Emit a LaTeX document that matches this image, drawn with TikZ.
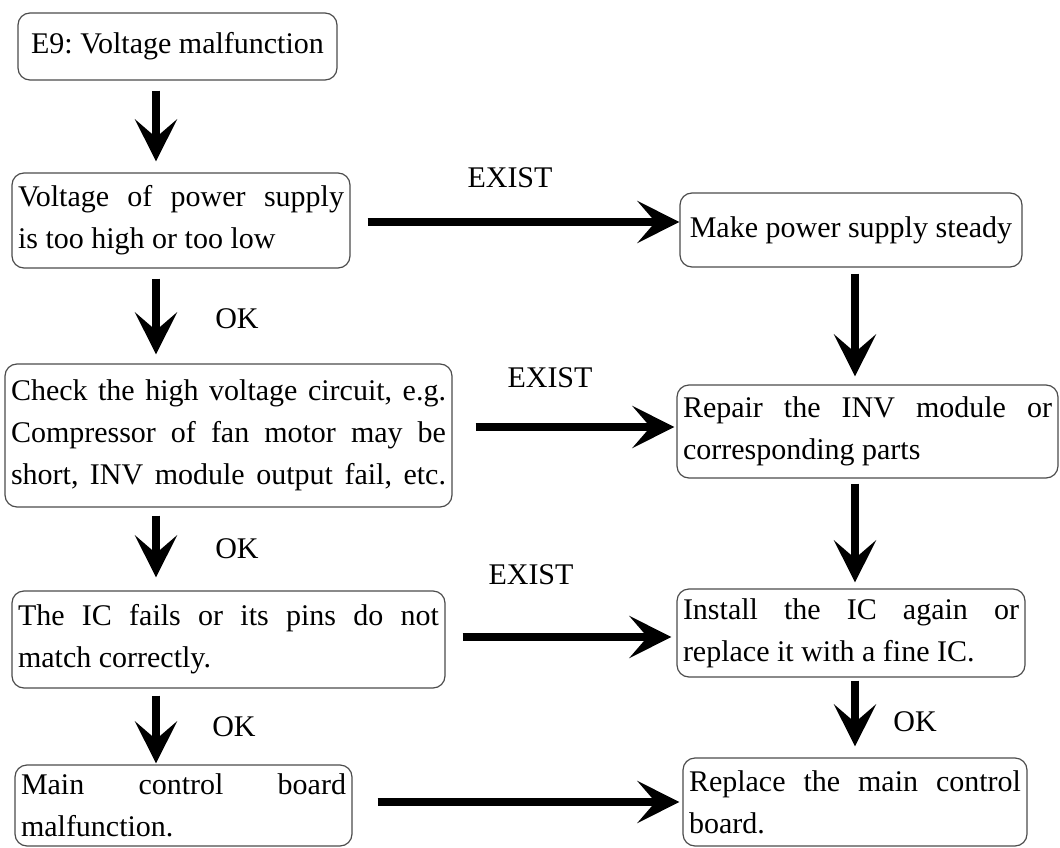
\documentclass[tikz,border=0pt]{standalone}
\usepackage{fontspec}
\setmainfont{Liberation Serif}
\usetikzlibrary{arrows.meta}
\frenchspacing
\tikzset{
  box/.style={draw=black!70, line width=1.2pt, rounded corners=12pt,
    inner xsep=6pt, inner ysep=0pt, align=justify,
    font=\fontsize{30}{42}\selectfont},
  lbl/.style={font=\fontsize{30}{36}\selectfont, inner sep=0pt},
  arr/.style={line width=8pt, -{Stealth[length=42pt,width=42pt,inset=18pt]}}
}
\begin{document}
\begin{tikzpicture}[x=1pt,y=-1pt]
\useasboundingbox (0,0) rectangle (1060,848);
% left column
\node[box, minimum width=319pt, minimum height=67pt, align=center] (b1) at (177.5,46.5) {E9: Voltage malfunction};
\node[box, minimum width=338pt, minimum height=95pt, text width=326pt] (b2) at (181,220.5)
  {Voltage of power supply\linebreak is too high or too low};
\node[box, minimum width=447pt, minimum height=143pt, text width=435pt] (b4) at (228.5,435.5)
  {Check the high voltage circuit, e.g.\linebreak Compressor of fan motor may be\linebreak \makebox[\linewidth][s]{short, INV module output fail, etc.}};
\node[box, minimum width=433pt, minimum height=97pt, text width=421pt] (b6) at (228.5,639.5)
  {The IC fails or its pins do not\linebreak match correctly.};
\node[box, minimum width=337pt, minimum height=81pt, text width=325pt] (b8) at (183.5,805.5)
  {Main control board\linebreak malfunction.};
% right column
\node[box, minimum width=342pt, minimum height=74pt, align=center] (b3) at (851,230)
  {Make power supply steady};
\node[box, minimum width=381pt, minimum height=93pt, text width=369pt] (b5) at (867.5,431.5)
  {Repair the INV module or\linebreak corresponding parts};
\node[box, minimum width=348pt, minimum height=88pt, text width=336pt] (b7) at (851,633)
  {Install the IC again or\linebreak replace it with a fine IC.};
\node[box, minimum width=344pt, minimum height=88pt, text width=332pt] (b9) at (855,802)
  {Replace the main control\linebreak board.};
% helper coordinates
\coordinate (cl) at (156,0);
\coordinate (cr) at (855,0);
\coordinate (r1) at (0,222);
\coordinate (r2) at (0,427);
\coordinate (r3) at (0,637);
\coordinate (r4) at (0,802);
% vertical arrows
\draw[arr, shorten <=10pt, shorten >=11pt] (b1.south -| cl) -- (b2.north -| cl);
\draw[arr, shorten <=10pt, shorten >=9pt] (b2.south -| cl) -- (b4.north -| cl);
\draw[arr, shorten <=8pt, shorten >=13pt] (b4.south -| cl) -- (b6.north -| cl);
\draw[arr, shorten <=7pt, shorten >=1pt] (b6.south -| cl) -- (b8.north -| cl);
\draw[arr, shorten <=6pt, shorten >=8pt] (b3.south -| cr) -- (b5.north -| cr);
\draw[arr, shorten <=5pt, shorten >=6pt] (b5.south -| cr) -- (b7.north -| cr);
\draw[arr, shorten <=3pt, shorten >=11pt] (b7.south -| cr) -- (b9.north -| cr);
% horizontal arrows
\draw[arr, shorten <=17pt, shorten >=0pt] (b2.east |- r1) -- (b3.west |- r1);
\draw[arr, shorten <=23pt, shorten >=2pt] (b4.east |- r2) -- (b5.west |- r2);
\draw[arr, shorten <=17pt, shorten >=5pt] (b6.east |- r3) -- (b7.west |- r3);
\draw[arr, shorten <=25pt, shorten >=3pt] (b8.east |- r4) -- (b9.west |- r4);
% labels
\node[lbl] (ok1) at (237,319) {OK};
\node[lbl] (ok2) at (237,549) {OK};
\node[lbl] (ok3) at (234,727) {OK};
\node[lbl] (ok4) at (915,722) {OK};
\node[lbl] (ex1) at (510,178) {EXIST};
\node[lbl] (ex2) at (550,378) {EXIST};
\node[lbl] (ex3) at (531,575) {EXIST};
\end{tikzpicture}
\end{document}
